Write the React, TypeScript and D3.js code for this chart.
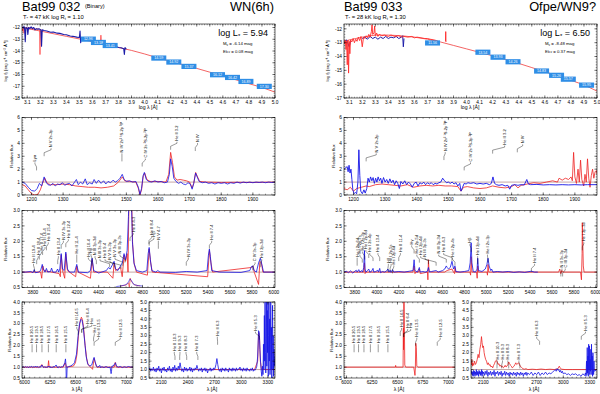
import React from 'react';
import * as d3 from 'd3';

type Pt = [number, number];
type Lab = [number, number, number, string];

const FONT = "'Liberation Sans', Arial, Helvetica, sans-serif";
const BLUE = '#1414e6';
const RED = '#ee2222';
const BOXC = '#2f8ee6';
const OX2 = 322;

// ---------------- Bat99 032 (left) ----------------
const sedModelL: Pt[] = [[3.06,-12.0],[3.2,-12.3],[3.4,-12.75],[3.6,-13.2],[3.8,-13.7],[3.9,-13.95],[4.0,-14.25],[4.1,-14.58],[4.2,-14.88],[4.3,-15.18],[4.4,-15.48],[4.5,-15.8],[4.6,-16.12],[4.7,-16.45],[4.8,-16.78],[4.9,-17.1],[5.0,-17.5]];
const sedObsBlueL: (Pt|null)[] = [[3.06,-11.95],[3.07,-12.05],[3.075,-11.9],[3.08,-12.1],[3.085,-13.2],[3.09,-12.0],[3.1,-12.05],[3.105,-12.6],[3.11,-12.0],[3.12,-12.1],[3.13,-11.95],[3.14,-12.1],[3.15,-12.0],[3.16,-12.2],[3.17,-12.1],[3.18,-12.15],[3.19,-12.1],[3.205,-12.2],[3.21,-13.6],[3.215,-12.2],[3.23,-12.25],[3.25,-12.3],[3.28,-12.4],[3.3,-12.38],[3.33,-12.48],[3.35,-12.5],[3.38,-12.6],[3.4,-12.62],[3.43,-12.72],[3.45,-12.75],[3.48,-12.82],[3.5,-12.85],[3.505,-12.3],[3.51,-13.3],[3.515,-12.9],[3.53,-12.95],[3.55,-13.0],[3.58,-13.1],[3.6,-13.15],[3.62,-13.18],[3.65,-13.3],[3.67,-13.32],[3.7,-13.45],[3.72,-13.45],[3.75,-13.55],[3.78,-13.62],[3.8,-13.7],[3.82,-13.72],[3.84,-13.8],[3.845,-14.3],[3.85,-13.7],[3.86,-13.85]];
const sedObsRedL: (Pt|null)[] = [[3.06,-11.9],[3.065,-12.3],[3.07,-12.0],[3.075,-12.5],[3.08,-12.1],[3.09,-12.0],[3.1,-12.05],[3.12,-12.0],[3.14,-12.1],[3.16,-12.15],[3.18,-12.1],[3.195,-12.2],[3.198,-14.3],[3.201,-12.2],[3.21,-12.2],null,[3.66,-13.3],[3.665,-12.65],[3.67,-13.3]];
const sedBoxPosL: Pt[] = [[3.569,-12.99],[3.646,-13.27],[3.736,-13.53],[4.109,-14.6],[4.224,-14.94],[4.34,-15.31],[4.559,-16.02],[4.674,-16.25],[4.777,-16.59],[4.918,-17.01]];
const sedBoxTxtL = ['12.96','13.18','13.41','14.59','14.92','15.37','16.12','16.42','16.89','17.30'];

const uvBlueL: Pt[] = [[1170,1.0],[1180,0.9],[1190,0.6],[1200,0.35],[1210,0.3],[1218,0.5],[1225,0.9],[1232,0.7],[1240,1.4],[1246,1.0],[1252,0.8],[1260,0.75],[1268,0.9],[1275,0.7],[1282,0.85],[1290,0.8],[1298,0.95],[1305,0.75],[1312,0.85],[1320,0.9],[1328,0.7],[1335,0.95],[1342,1.2],[1348,0.8],[1355,1.0],[1362,0.85],[1370,1.25],[1376,0.8],[1384,0.95],[1392,0.85],[1398,1.2],[1405,0.9],[1412,1.15],[1420,0.9],[1428,1.1],[1435,0.85],[1442,1.05],[1450,0.95],[1458,1.15],[1465,1.0],[1472,1.1],[1480,1.3],[1487,1.6],[1493,1.2],[1500,1.05],[1510,1.1],[1520,1.0],[1530,1.05],[1538,0.6],[1543,0.05],[1548,0.5],[1553,1.5],[1557,1.75],[1563,1.2],[1570,1.05],[1580,1.0],[1590,1.1],[1600,1.0],[1610,1.05],[1620,0.95],[1630,1.0],[1636,1.6],[1640,2.8],[1645,2.2],[1650,1.3],[1657,1.05],[1665,0.9],[1672,1.0],[1680,0.85],[1688,0.8],[1695,0.95],[1702,0.85],[1708,0.45],[1713,0.9],[1719,1.7],[1724,1.4],[1730,1.05],[1740,0.95],[1750,1.0],[1760,0.9],[1770,0.95],[1780,0.85],[1790,0.95],[1800,0.9],[1810,0.95],[1820,0.85],[1830,0.95],[1840,0.9],[1850,1.0],[1860,0.92],[1870,1.0],[1880,0.95],[1890,1.0],[1900,0.95],[1910,1.0],[1920,0.97],[1930,1.0],[1940,0.95],[1950,1.0],[1960,0.97],[1970,1.0]];
const uvRedL: Pt[] = [[1170,0.8],[1180,0.7],[1190,0.4],[1200,0.1],[1210,0.0],[1220,0.05],[1228,0.4],[1235,0.9],[1242,1.3],[1250,0.9],[1260,0.8],[1280,0.8],[1300,0.85],[1320,0.8],[1340,0.7],[1360,0.65],[1380,0.6],[1400,0.6],[1420,0.55],[1440,0.6],[1460,0.7],[1475,1.0],[1487,1.4],[1495,1.1],[1510,1.05],[1530,1.0],[1538,0.5],[1543,0.0],[1548,0.4],[1553,1.4],[1558,1.7],[1565,1.2],[1575,1.05],[1600,1.05],[1625,1.0],[1634,1.6],[1640,3.3],[1646,2.5],[1652,1.4],[1660,1.15],[1670,1.2],[1680,1.15],[1690,1.1],[1700,1.0],[1708,0.55],[1713,0.9],[1719,1.75],[1725,1.4],[1732,1.05],[1750,1.0],[1800,0.97],[1850,0.98],[1900,0.97],[1970,1.0]];
const uvLabL: Lab[] = [[1216,1211,2.6,'Lyα'],[1240,1262,3.7,'N V 2s-2p'],[1486,1486,3.3,'N IV 2s² ¹S-2p ³P'],[1550,1560,2.9,'C IV 2s ²S-2p ²P'],[1640,1660,4.2,'He II 3-2'],[1718,1725,4.1,'N IV']];

const optBlueL: Pt[] = [[3700,1.0],[3735,1.0],[3780,1.02],[3800,0.98],[3812,1.08],[3822,0.98],[3850,1.0],[3870,1.05],[3885,1.25],[3895,1.1],[3910,1.0],[3923,1.12],[3935,1.0],[3960,1.02],[3970,1.13],[3982,1.0],[4010,1.0],[4025,1.1],[4035,1.0],[4045,1.1],[4058,1.6],[4070,1.1],[4085,1.05],[4100,1.65],[4115,1.1],[4135,1.0],[4180,1.0],[4200,1.25],[4215,1.0],[4300,0.98],[4325,1.05],[4340,1.45],[4355,1.05],[4400,0.97],[4470,1.05],[4490,1.15],[4505,1.1],[4520,1.2],[4541,1.35],[4555,1.1],[4575,1.05],[4600,1.2],[4615,1.3],[4632,1.6],[4645,1.4],[4660,1.7],[4672,2.8],[4680,4.2],[4695,4.0],[4708,2.0],[4722,1.3],[4745,1.05],[4800,1.0],[4840,1.05],[4852,1.6],[4861,1.8],[4872,1.4],[4885,1.05],[4920,1.0],[4940,1.05],[4960,1.0],[5100,0.99],[5200,1.02],[5300,1.0],[5390,1.05],[5402,1.55],[5411,1.75],[5420,1.5],[5432,1.05],[5500,1.0],[5700,0.99],[5780,1.05],[5795,1.18],[5808,1.2],[5820,1.05],[5840,1.0],[5860,1.3],[5876,1.45],[5890,1.25],[5905,1.0],[6010,1.0]];
const optRedL: Pt[] = [[3700,1.0],[3870,1.0],[3880,0.8],[3890,1.2],[3900,1.05],[4040,0.95],[4050,0.85],[4058,1.55],[4070,1.05],[4090,0.8],[4100,1.6],[4115,1.05],[4190,0.85],[4200,1.2],[4212,1.0],[4325,0.8],[4340,1.4],[4355,1.0],[4480,1.0],[4530,0.8],[4541,1.3],[4555,1.05],[4600,1.15],[4615,0.85],[4632,1.55],[4645,1.35],[4660,1.6],[4668,1.0],[4674,2.7],[4684,4.3],[4698,3.9],[4710,1.9],[4725,1.25],[4745,1.0],[4845,0.9],[4861,1.75],[4875,1.3],[4890,1.0],[5395,0.85],[5411,1.7],[5425,1.3],[5440,1.0],[5795,1.15],[5808,1.2],[5820,1.0],[5860,0.6],[5872,1.35],[5885,1.3],[5900,1.0],[6010,1.0]];
const optInsetBlueL: Pt[] = [[4560,0.53],[4600,0.55],[4640,0.58],[4660,0.62],[4675,0.7],[4686,0.78],[4700,0.72],[4720,0.6],[4760,0.56],[4800,0.55]];
const optInsetRedL: Pt[] = [[4600,0.55],[4650,0.58],[4672,0.65],[4680,0.5],[4688,0.8],[4700,0.68],[4730,0.58],[4780,0.55]];
const optLabL: Lab[] = [[3813,3805,1.3,'He II 19-4'],[3834,3848,1.55,'He II 18-4'],[3858,3878,1.7,'He II 17-4'],[3888,3910,1.85,'He II 16-4'],[3923,3940,2.0,'He II 15-4'],[4026,4032,1.55,'He II 13-4'],[4058,4078,2.05,'N IV 3s-3p'],[4100,4123,2.1,'He II 12-4'],[4200,4200,1.6,'He II 11-4'],[4338,4306,1.5,'He II 10-4'],[4340,4330,1.62,'Hγ'],[4379,4367,1.55,'N III 3p-3d'],[4500,4412,1.45,'N III 3s-3p'],[4541,4458,1.45,'He II 9-4'],[4604,4504,1.4,'N V 3s-3p'],[4620,4549,1.5,'N V 3s-3p'],[4640,4595,1.6,'N III 3p-3s'],[4686,4716,2.3,'He II 4-3'],[4859,4884,2.2,'He II 8-4'],[4861,4904,2.15,'Hβ'],[4945,4945,2.05,'N V 4-7'],[5200,5219,1.5,'N IV 3s-3p'],[5411,5432,2.05,'He II 7-4'],[5806,5828,1.35,'C IV 3s-3p'],[5876,5889,1.45,'He I 2p-3d']];

const haBlueL: Pt[] = [[5975,1.0],[5990,1.02],[6000,0.98],[6010,1.03],[6020,0.99],[6030,1.02],[6040,0.97],[6050,1.03],[6060,1.0],[6070,1.04],[6080,0.98],[6090,1.02],[6100,1.0],[6110,1.05],[6120,0.99],[6130,1.03],[6140,0.98],[6150,1.02],[6160,1.0],[6170,1.1],[6180,1.02],[6190,0.98],[6200,1.03],[6210,0.97],[6220,1.02],[6230,1.0],[6240,1.05],[6250,0.98],[6260,1.02],[6270,0.97],[6280,1.03],[6290,1.0],[6300,1.04],[6310,1.1],[6320,1.0],[6330,0.97],[6340,1.03],[6350,0.98],[6360,1.02],[6370,1.0],[6380,1.05],[6395,1.2],[6402,1.38],[6407,1.1],[6410,0.3],[6414,0.4],[6418,1.0],[6430,1.02],[6450,1.05],[6470,1.1],[6490,1.2],[6510,1.6],[6525,2.4],[6540,3.0],[6555,3.2],[6565,3.15],[6575,2.9],[6590,2.2],[6605,1.5],[6620,1.15],[6640,1.05],[6660,1.1],[6672,1.3],[6683,1.45],[6693,1.25],[6705,1.05],[6720,1.0],[6740,1.08],[6745,0.98],[6760,1.02],[6780,0.98],[6800,1.03],[6820,0.98],[6840,1.0],[6850,0.7],[6854,0.8],[6858,1.05],[6870,1.05],[6885,1.15],[6893,1.2],[6902,1.05],[6920,1.0],[6940,1.03],[6960,0.98],[6980,1.02],[7000,0.99],[7020,1.03],[7040,1.0],[7065,1.01]];
const haRedL: Pt[] = [[5975,1.0],[6150,1.0],[6170,1.12],[6185,1.0],[6230,1.0],[6236,1.3],[6242,1.0],[6380,1.0],[6400,1.2],[6412,1.0],[6480,1.05],[6500,1.2],[6515,1.6],[6530,2.5],[6545,3.1],[6558,3.3],[6568,3.2],[6580,2.8],[6595,2.0],[6610,1.4],[6625,1.1],[6650,1.0],[6668,0.9],[6683,1.4],[6695,1.2],[6710,1.0],[6880,1.0],[6891,1.22],[6902,1.0],[7065,1.0]];
const haLabL: Lab[] = [[6074,6074,2.1,'He II 20-5'],[6118,6118,2.1,'He II 19-5'],[6171,6171,2.1,'He II 18-5'],[6234,6234,2.1,'He II 17-5'],[6311,6311,2.1,'He II 16-5'],[6406,6406,2.1,'He II 15-5'],[6527,6513,2.9,'He II 14-5'],[6560,6621,3.0,'He II 6-4'],[6563,6660,3.0,'Hα'],[6678,6685,2.6,'He I'],[6683,6727,2.4,'He II 13-5'],[6891,6940,2.4,'He II 12-5']];

const irBlueL: Pt[] = [[1960,1.0],[1970,1.1],[1980,0.9],[1990,1.05],[2000,0.95],[2010,1.15],[2020,0.9],[2030,1.05],[2040,0.85],[2050,1.1],[2060,0.95],[2070,1.2],[2080,0.9],[2090,1.05],[2100,0.8],[2110,1.1],[2120,0.95],[2130,1.15],[2140,0.9],[2150,1.0],[2160,0.85],[2170,1.1],[2180,0.95],[2190,1.2],[2200,0.9],[2210,1.05],[2220,0.85],[2230,1.15],[2240,0.95],[2250,1.25],[2260,0.9],[2270,1.1],[2280,0.95],[2290,1.2],[2300,1.0],[2310,1.4],[2320,1.1],[2330,0.9],[2340,1.05],[2350,0.85],[2360,1.15],[2370,0.95],[2380,1.1],[2390,0.9],[2400,1.05],[2410,0.95],[2420,1.15],[2430,0.9],[2440,1.1],[2450,0.85],[2460,1.05],[2470,0.95],[2480,1.1],[2490,1.0],[2500,1.25],[2510,1.05],[2520,0.9],[2530,1.05],[2540,0.95],[2550,1.1],[2560,0.85],[2570,1.05],[2580,0.95],[2590,1.1],[2600,0.9],[2610,1.05],[2620,0.8],[2630,1.0],[2640,0.95],[2650,1.1],[2660,0.9],[2670,1.05],[2680,0.95],[2690,1.1],[2700,1.0],[2715,1.3],[2725,1.65],[2735,1.3],[2745,1.0],[2755,0.9],[2765,1.05],[2775,0.85],[2785,1.1],[2795,0.95],[2805,1.05],[2815,0.9],[2825,1.1],[2835,0.95],[2845,1.0],[2855,0.85],[2865,1.1],[2875,0.95],[2885,1.05],[2895,0.9],[2905,1.1],[2915,0.95],[2925,1.05],[2935,0.9],[2945,1.1],[2955,0.95],[2965,1.05],[2975,1.0],[2985,1.15],[2995,0.95],[3005,1.05],[3015,0.9],[3025,1.1],[3035,0.95],[3045,1.05],[3055,0.9],[3065,1.1],[3075,0.95],[3085,1.0],[3095,0.9],[3105,1.05],[3115,0.95],[3125,1.1],[3135,0.9],[3145,1.0],[3155,0.95],[3165,1.05],[3175,1.2],[3185,1.8],[3195,3.3],[3203,3.2],[3210,2.2],[3218,1.4],[3225,0.9],[3232,0.6],[3238,1.2],[3245,0.7],[3250,2.5],[3255,1.0],[3260,4.2],[3264,1.5],[3268,5.2],[3272,2.0],[3276,0.8],[3280,3.5],[3284,5.2],[3288,1.2],[3292,4.5],[3296,2.0],[3300,5.2],[3304,0.6],[3308,3.0],[3312,5.2],[3316,1.5],[3320,4.0],[3324,0.7],[3328,2.5],[3332,5.2],[3336,1.0],[3340,3.5],[3344,0.5],[3348,2.8],[3352,4.8],[3356,1.0],[3360,3.0],[3364,0.6],[3368,2.2],[3372,1.2],[3380,1.8]];
const irRedL: Pt[] = [[1960,1.0],[3150,1.0],[3185,1.5],[3195,3.2],[3205,3.0],[3215,1.5],[3228,1.0],[3380,1.0]];
const irLabL: Lab[] = [[2253,2245,2.1,'He II 10-3'],[2306,2309,2.1,'He II 9-3'],[2385,2377,2.1,'He II 8-3'],[2511,2498,2.1,'He II 7-3'],[2733,2730,3.0,'He II 6-3'],[3203,3160,3.3,'He II 5-3']];

// ---------------- Bat99 033 (right) ----------------
const sedModelR: Pt[] = [[3.06,-12.95],[3.1,-12.8],[3.2,-12.6],[3.3,-12.45],[3.4,-12.45],[3.5,-12.5],[3.6,-12.6],[3.7,-12.75],[3.8,-12.95],[3.9,-13.2],[4.0,-13.45],[4.1,-13.7],[4.2,-13.95],[4.3,-14.22],[4.4,-14.5],[4.5,-14.8],[4.6,-15.1],[4.7,-15.4],[4.8,-15.72],[4.9,-16.05],[5.0,-16.5]];
const sedObsRedR: (Pt|null)[] = [[3.06,-12.9],[3.065,-13.1],[3.07,-12.8],[3.075,-13.5],[3.08,-12.9],[3.085,-14.6],[3.09,-12.8],[3.095,-15.2],[3.1,-12.9],[3.105,-13.8],[3.11,-12.8],[3.12,-12.95],[3.13,-12.7],[3.14,-13.0],[3.15,-12.75],[3.16,-12.9],[3.17,-12.6],[3.18,-12.85],[3.19,-12.55],[3.2,-13.3],[3.21,-12.6],[3.22,-12.7],[3.23,-12.5],[3.24,-12.65],[3.25,-12.4],[3.26,-12.6],[3.27,-12.2],[3.275,-11.7],[3.28,-12.4],[3.29,-12.3],[3.295,-11.8],[3.3,-12.5],[3.31,-12.3],[3.32,-12.55],[3.33,-12.4],[3.35,-12.5],[3.37,-12.45],[3.4,-12.55],[3.42,-12.45],[3.45,-12.55],[3.48,-12.5],[3.5,-12.6],[3.52,-12.55],[3.55,-12.6],[3.58,-12.55],[3.6,-12.65],[3.62,-12.6],[3.65,-12.65],[3.68,-12.7],[3.7,-12.7],[3.72,-12.75],[3.75,-12.8],[3.77,-12.85],[3.78,-12.9],null,[3.838,-12.9],[3.84,-12.2],[3.842,-12.95]];
const sedObsBlueR: (Pt|null)[] = [[3.06,-12.9],[3.08,-12.8],[3.1,-13.3],[3.11,-12.9],null,[3.2,-12.7],[3.22,-12.6],[3.24,-12.75],[3.26,-12.55],[3.28,-12.7],[3.3,-12.6],[3.32,-12.75],[3.34,-12.6],[3.36,-12.7],[3.38,-12.55],[3.4,-12.7],[3.42,-12.6],[3.44,-12.65],[3.46,-12.55],[3.48,-12.7],[3.5,-12.6],[3.51,-12.5],[3.515,-13.3],[3.52,-12.7]];
const sedBoxPosR: Pt[] = [[3.739,-13.02],[4.125,-13.69],[4.241,-14.05],[4.356,-14.38],[4.575,-15.05],[4.69,-15.36],[4.78,-15.64],[4.92,-16.07]];
const sedBoxTxtR = ['11.56','13.54','13.93','14.26','14.83','15.26','15.57','15.95'];

const uvBlueR: Pt[] = [[1170,2.0],[1180,2.2],[1183,1.8],[1186,2.3],[1189,1.7],[1192,2.0],[1195,1.2],[1198,0.4],[1202,0.1],[1206,0.2],[1210,0.1],[1214,1.0],[1217,3.5],[1220,1.5],[1223,0.3],[1228,0.1],[1233,0.4],[1237,0.15],[1242,0.5],[1246,1.3],[1250,1.0],[1254,1.4],[1258,1.1],[1262,1.35],[1266,0.9],[1270,1.3],[1274,1.0],[1278,1.4],[1282,1.1],[1286,1.3],[1290,0.9],[1295,1.35],[1300,1.0],[1305,1.2],[1310,0.9],[1315,1.25],[1320,0.95],[1325,1.15],[1330,0.8],[1335,1.1],[1340,0.9],[1345,0.5],[1350,1.05],[1356,0.85],[1362,1.1],[1368,0.8],[1374,1.0],[1380,0.85],[1386,0.6],[1392,0.9],[1398,1.0],[1404,0.7],[1410,0.95],[1416,0.85],[1422,1.0],[1428,0.8],[1434,0.95],[1440,0.85],[1446,0.95],[1452,0.8],[1458,0.9],[1464,0.85],[1470,0.95],[1476,1.0],[1482,1.3],[1488,1.1],[1494,0.95],[1500,1.0],[1506,0.9],[1512,1.0],[1518,0.85],[1524,0.95],[1530,0.7],[1536,0.9],[1540,0.3],[1545,0.6],[1550,0.9],[1556,0.85],[1562,0.95],[1570,0.9],[1580,0.95],[1590,0.85],[1600,0.9],[1610,0.85],[1620,0.9],[1630,0.8],[1636,0.9],[1641,1.4],[1646,0.9],[1652,0.8],[1660,0.75],[1670,0.8],[1680,0.7],[1688,0.75],[1694,0.45],[1700,0.75],[1710,0.8],[1720,0.75],[1730,0.8],[1740,0.78],[1748,1.2],[1753,0.85],[1760,0.8],[1780,0.82],[1800,0.78],[1820,0.8],[1840,0.78],[1860,0.8],[1880,0.78],[1900,0.8],[1920,0.78],[1940,0.8],[1970,0.8]];
const uvRedR: Pt[] = [[1170,0.5],[1180,0.4],[1190,0.6],[1200,0.3],[1210,0.5],[1225,0.6],[1240,0.7],[1250,0.65],[1270,0.8],[1290,0.85],[1310,0.8],[1330,0.75],[1350,0.7],[1370,0.8],[1390,0.6],[1410,0.7],[1430,0.75],[1450,0.7],[1470,0.75],[1490,0.7],[1510,0.7],[1530,0.65],[1540,0.3],[1548,0.6],[1560,0.65],[1580,0.55],[1600,0.5],[1620,0.55],[1640,0.7],[1660,0.6],[1680,0.55],[1700,0.65],[1710,0.8],[1720,0.55],[1730,0.75],[1750,0.85],[1770,0.95],[1790,0.9],[1810,1.0],[1830,1.1],[1845,1.0],[1850,1.3],[1860,1.15],[1870,1.3],[1880,1.2],[1888,1.4],[1892,1.1],[1896,3.3],[1900,1.4],[1905,0.9],[1910,2.0],[1914,1.0],[1918,2.7],[1922,1.2],[1928,0.7],[1932,1.6],[1936,1.0],[1940,2.8],[1944,1.3],[1948,0.6],[1952,1.5],[1956,2.0],[1960,1.3],[1964,1.8],[1968,1.9],[1970,1.6]];
const uvLabR: Lab[] = [[1240,1272,3.3,'N V 2s-2p'],[1486,1490,3.4,'N IV 2s² ¹S-2p ³P'],[1550,1570,2.6,'C IV 2s ²S-2p ²P'],[1640,1678,3.9,'He II 3-2'],[1718,1735,4.0,'N IV']];

const optBlueR: Pt[] = [[3700,1.0],[3720,1.03],[3740,0.98],[3760,1.04],[3780,0.97],[3800,1.03],[3812,1.06],[3820,1.0],[3835,1.08],[3845,1.0],[3860,1.05],[3870,1.0],[3880,1.15],[3887,1.7],[3892,1.1],[3900,1.0],[3915,1.05],[3926,1.1],[3935,1.0],[3950,1.02],[3965,1.12],[3972,1.0],[3990,1.02],[4009,1.06],[4015,1.0],[4026,1.12],[4034,0.98],[4050,1.02],[4070,1.0],[4090,1.04],[4101,1.1],[4110,1.0],[4121,1.06],[4130,0.99],[4143,1.08],[4155,1.0],[4200,1.02],[4250,1.0],[4300,1.03],[4330,1.05],[4340,1.4],[4348,1.05],[4370,1.0],[4388,1.15],[4396,1.0],[4420,1.02],[4440,1.0],[4460,1.02],[4471,1.15],[4480,1.0],[4500,1.02],[4541,1.05],[4560,1.0],[4600,1.05],[4620,1.1],[4634,1.2],[4642,1.15],[4655,1.1],[4670,1.15],[4686,1.35],[4700,1.1],[4713,1.2],[4722,1.02],[4760,1.0],[4800,1.02],[4840,1.05],[4852,1.3],[4861,1.95],[4868,1.3],[4880,1.02],[4900,1.0],[4915,1.1],[4921,1.45],[4928,1.05],[4960,1.02],[4990,1.1],[5005,1.25],[5015,1.45],[5025,1.2],[5040,1.05],[5048,1.1],[5060,1.0],[5100,1.02],[5150,1.0],[5200,1.02],[5250,0.99],[5300,1.01],[5350,0.99],[5411,1.03],[5440,1.0],[5470,1.0]];
const optRedR: Pt[] = [[3700,1.0],[3880,1.0],[3887,1.3],[3892,0.95],[3900,1.0],[4330,1.0],[4340,1.2],[4348,0.95],[4355,1.0],[4380,1.0],[4388,1.1],[4396,0.95],[4462,1.0],[4466,0.75],[4471,1.4],[4476,1.05],[4490,1.0],[4620,1.0],[4640,1.05],[4686,1.1],[4700,1.0],[4710,0.95],[4713,1.15],[4720,1.0],[4850,1.0],[4856,0.9],[4861,1.5],[4868,1.0],[4910,1.0],[4916,0.8],[4921,1.2],[4928,1.0],[5005,1.0],[5010,0.9],[5015,1.25],[5022,1.0],[5600,1.0],[5660,1.0],[5670,1.1],[5680,0.95],[5690,1.05],[5700,1.0],[5860,1.0],[5868,0.75],[5874,1.6],[5876,2.6],[5880,2.0],[5885,1.2],[5892,1.0],[6010,1.0]];
const optLabR: Lab[] = [[3820,3820,1.5,'He I 2p-6d'],[3867,3845,1.6,'He I 2p-7s'],[3889,3870,1.7,'He I 2s-3p'],[3926,3900,1.75,'He I 2p-8d'],[3965,3935,1.65,'He I 2s-4p'],[4026,4010,1.65,'He II 13-4'],[4101,4105,1.3,'Hδ'],[4121,4130,1.3,'He I 2p-5s'],[4143,4155,1.25,'He I 2p-6d'],[4200,4215,1.65,'He II 11-4'],[4340,4318,1.9,'Hγ'],[4388,4365,1.6,'He I 2p-5d'],[4471,4400,1.55,'He I 2p-4d'],[4541,4440,1.5,'N III 3p-3s'],[4634,4565,1.6,'N III 3p-3d'],[4686,4610,1.65,'He II 4-3'],[4713,4690,1.5,'He I 2p-4s'],[4861,4850,1.95,'Hβ'],[4921,4920,1.55,'He I 2p-4d'],[5015,5010,1.6,'He I 2s-3p'],[5411,5440,1.3,'He II 7-4'],[5680,5690,1.15,'N II 3s-3p'],[5696,5720,1.15,'C III 3p-3d'],[5876,5890,2.0,'He I 2p-3d']];

const haRedR: Pt[] = [[5975,1.0],[6300,1.0],[6480,1.0],[6482,1.08],[6485,1.0],[6555,1.0],[6558,2.8],[6560,1.8],[6562,4.2],[6565,4.5],[6568,2.8],[6572,1.1],[6580,1.0],[6630,1.0],[6660,1.0],[6672,0.62],[6676,1.0],[6680,2.1],[6685,1.9],[6690,1.05],[6700,1.0],[7065,1.0]];
const haLabR: Lab[] = [[6074,6074,2.1,'He II 20-5'],[6118,6118,2.1,'He II 19-5'],[6171,6171,2.1,'He II 18-5'],[6234,6234,2.1,'He II 17-5'],[6311,6311,2.1,'He II 16-5'],[6406,6406,2.1,'He II 15-5'],[6527,6540,2.85,'He II 14-5'],[6560,6600,2.8,'He II 6-4'],[6563,6630,2.8,'Hα'],[6678,6690,2.4,'He II 13-5'],[6891,6920,2.4,'He II 12-5']];

const irBlueR: Pt[] = [[1960,1.0],[1965,0.75],[1970,0.9],[1975,0.65],[1980,0.85],[1985,0.6],[1990,0.95],[1995,0.7],[2000,0.9],[2005,0.6],[2010,0.85],[2015,0.7],[2020,1.0],[2025,0.65],[2030,0.9],[2035,0.7],[2040,0.85],[2045,0.6],[2050,0.95],[2055,0.75],[2060,0.9],[2065,0.65],[2070,0.85],[2075,0.7],[2080,1.0],[2085,0.6],[2090,0.9],[2095,0.75],[2100,0.85],[2110,0.65],[2120,0.9],[2130,0.7],[2140,0.95],[2150,0.6],[2160,0.85],[2170,0.7],[2180,0.9],[2190,0.65],[2200,0.85],[2210,0.7],[2220,0.95],[2230,0.6],[2240,0.85],[2250,0.75],[2260,0.9],[2270,0.65],[2280,0.85],[2290,0.7],[2300,0.9],[2310,0.6],[2320,0.8],[2330,0.7],[2340,0.9],[2350,0.65],[2360,0.85],[2370,0.7],[2380,0.8],[2390,0.6],[2400,0.85],[2410,0.7],[2420,0.8],[2430,0.65],[2440,0.85],[2450,0.7],[2460,0.8],[2470,0.6],[2480,0.85],[2490,0.7],[2500,0.8],[2510,0.65],[2520,0.85],[2530,0.7],[2540,0.8],[2550,0.6],[2560,0.8],[2570,0.7],[2580,0.85],[2590,0.65],[2600,0.8],[2620,0.7],[2640,0.85],[2660,0.65],[2680,0.8],[2700,0.7],[2720,0.85],[2740,0.65],[2760,0.8],[2780,0.7],[2800,0.85],[2820,0.7],[2840,0.8],[2860,0.75],[2880,0.85],[2900,0.95],[2910,1.0],[2920,0.9],[2930,1.05],[2940,0.95],[2950,1.0],[2960,0.85],[2970,0.95],[2980,0.8],[2990,0.9],[3000,0.75],[3020,0.8],[3040,0.7],[3060,0.75],[3080,0.65],[3100,0.75],[3120,0.7],[3140,0.75],[3160,0.65],[3180,0.7],[3200,0.6],[3220,0.75],[3240,0.65],[3250,0.8],[3256,0.6],[3262,1.5],[3266,0.7],[3270,2.3],[3274,0.8],[3278,1.8],[3282,0.6],[3286,2.5],[3290,1.0],[3294,2.4],[3298,0.7],[3302,1.6],[3306,0.9],[3310,2.2],[3314,0.7],[3318,2.5],[3322,1.0],[3326,1.8],[3330,0.6],[3334,2.0],[3338,1.2],[3342,0.7],[3346,1.5],[3350,0.9],[3380,1.0]];
const irRedR: Pt[] = [[1960,1.5],[1965,1.3],[1970,1.6],[1975,1.2],[1980,1.4],[1990,1.25],[2000,1.5],[2010,1.3],[2020,1.4],[2030,1.6],[2040,1.9],[2050,1.7],[2060,2.2],[2070,2.5],[2078,2.95],[2085,2.6],[2092,2.3],[2100,2.4],[2108,2.0],[2115,1.8],[2125,1.6],[2135,1.5],[2145,1.3],[2155,1.4],[2165,1.25],[2175,1.3],[2185,1.15],[2195,1.2],[2205,1.1],[2215,1.25],[2225,1.35],[2235,1.5],[2245,1.55],[2255,1.45],[2265,1.3],[2275,1.35],[2285,1.2],[2295,1.25],[2305,1.15],[2315,1.2],[2325,1.1],[2335,1.15],[2345,1.25],[2355,1.15],[2365,1.2],[2375,1.3],[2385,1.45],[2395,1.35],[2405,1.25],[2415,1.2],[2425,1.1],[2435,1.15],[2445,1.2],[2455,1.3],[2465,1.4],[2475,1.3],[2485,1.35],[2495,1.4],[2505,1.3],[2515,1.2],[2525,1.15],[2535,1.1],[2545,1.05],[2560,1.02],[2580,1.05],[2600,1.0],[2650,1.02],[2700,1.0],[2750,1.03],[2800,1.0],[2850,1.02],[2900,1.0],[2940,1.05],[2955,1.2],[2965,1.1],[2980,1.02],[3020,1.0],[3100,1.0],[3200,1.0],[3380,1.0]];
const irLabR: Lab[] = [[2253,2255,1.6,'He II 10-3'],[2306,2315,1.6,'He II 9-3'],[2385,2375,1.6,'He II 8-3'],[2511,2500,1.6,'He II 7-3'],[2733,2700,3.0,'He II 6-3'],[3203,3250,3.3,'He II 5-3']];

// ---------------- layout ----------------
interface Series { data: (Pt|null)[]; color: string; w: number; op?: number }
interface Spec {
  id: string; l: number; t: number; r: number; b: number;
  xd: [number, number]; yd: [number, number];
  xMaj: number; xMin: number; yMaj: number; yMin: number;
  xDec: number; yDec: number;
  ref?: number; series: Series[]; labels?: Lab[];
  boxes?: { pos: Pt[]; txt: string[] };
}

function tickVals(lo: number, hi: number, step: number): number[] {
  const a = Math.ceil(lo / step - 1e-6), b = Math.floor(hi / step + 1e-6);
  return d3.range(a, b + 1).map((i) => +(i * step).toFixed(6));
}

function Panel({ s, ox }: { s: Spec; ox: number }) {
  const l = s.l + ox, r = s.r + ox;
  const xs = d3.scaleLinear().domain(s.xd).range([l, r]);
  const ys = d3.scaleLinear().domain(s.yd).range([s.b, s.t]);
  const line = d3.line<Pt | null>().defined((d) => d != null).x((d) => xs((d as Pt)[0])).y((d) => ys((d as Pt)[1]));
  const cid = `clip-${s.id}`;
  const xMajT = tickVals(s.xd[0], s.xd[1], s.xMaj);
  const xMinT = tickVals(s.xd[0], s.xd[1], s.xMin);
  const yMajT = tickVals(s.yd[0], s.yd[1], s.yMaj);
  const yMinT = tickVals(s.yd[0], s.yd[1], s.yMin);
  const tk = '#000';
  return (
    <g>
      <defs><clipPath id={cid}><rect x={l} y={s.t} width={r - l} height={s.b - s.t} /></clipPath></defs>
      <rect x={l} y={s.t} width={r - l} height={s.b - s.t} fill="#fff" />
      <g clipPath={`url(#${cid})`}>
        {s.ref != null && <line x1={l} x2={r} y1={ys(s.ref)} y2={ys(s.ref)} stroke="#8a4a4a" strokeWidth={0.5} />}
        {s.series.map((se, i) => (
          <path key={i} d={line(se.data) || ''} fill="none" stroke={se.color} strokeWidth={se.w} strokeOpacity={se.op ?? 1} strokeLinejoin="round" />
        ))}
      </g>
      {s.boxes && s.boxes.pos.map((p, i) => (
        <g key={'b' + i}>
          <rect x={xs(p[0]) - 7.5} y={ys(p[1]) - 2.6} width={15} height={5.2} fill={BOXC} />
          <text x={xs(p[0])} y={ys(p[1]) + 1.3} fontSize={3.6} fill="#fff" textAnchor="middle" fontFamily={FONT}>{s.boxes!.txt[i]}</text>
        </g>
      ))}
      {s.labels && s.labels.map(([ll, lt, yt, txt], i) => {
        const xl = xs(ll), xt = xs(lt), yp = ys(yt);
        return (
          <g key={'l' + i}>
            <polyline points={`${xt},${yp + 1} ${xt},${yp + 2.5} ${xl},${yp + 5.5} ${xl},${yp + 9}`} fill="none" stroke="#000" strokeWidth={0.4} />
            <text transform={`translate(${xt + 1.4},${yp}) rotate(-90)`} fontSize={4} fontFamily={FONT} fill="#000">{txt}</text>
          </g>
        );
      })}
      <rect x={l} y={s.t} width={r - l} height={s.b - s.t} fill="none" stroke="#000" strokeWidth={0.6} />
      {xMinT.map((v) => (
        <g key={'xm' + v}>
          <line x1={xs(v)} x2={xs(v)} y1={s.b} y2={s.b - 1.3} stroke={tk} strokeWidth={0.4} />
          <line x1={xs(v)} x2={xs(v)} y1={s.t} y2={s.t + 1.3} stroke={tk} strokeWidth={0.4} />
        </g>
      ))}
      {xMajT.map((v) => (
        <g key={'xM' + v}>
          <line x1={xs(v)} x2={xs(v)} y1={s.b} y2={s.b - 2.6} stroke={tk} strokeWidth={0.5} />
          <line x1={xs(v)} x2={xs(v)} y1={s.t} y2={s.t + 2.6} stroke={tk} strokeWidth={0.5} />
          <text x={xs(v)} y={s.b + 6} fontSize={4.8} textAnchor="middle" fontFamily={FONT}>{v.toFixed(s.xDec)}</text>
        </g>
      ))}
      {yMinT.map((v) => (
        <g key={'ym' + v}>
          <line x1={l} x2={l + 1.3} y1={ys(v)} y2={ys(v)} stroke={tk} strokeWidth={0.4} />
          <line x1={r} x2={r - 1.3} y1={ys(v)} y2={ys(v)} stroke={tk} strokeWidth={0.4} />
        </g>
      ))}
      {yMajT.map((v) => (
        <g key={'yM' + v}>
          <line x1={l} x2={l + 2.6} y1={ys(v)} y2={ys(v)} stroke={tk} strokeWidth={0.5} />
          <line x1={r} x2={r - 2.6} y1={ys(v)} y2={ys(v)} stroke={tk} strokeWidth={0.5} />
          <text x={l - 2} y={ys(v) + 1.7} fontSize={4.8} textAnchor="end" fontFamily={FONT}>{v.toFixed(s.yDec)}</text>
        </g>
      ))}
    </g>
  );
}

function vtitle(x: number, y: number, content: React.ReactNode, fs = 4.3) {
  return <text transform={`translate(${x},${y}) rotate(-90)`} fontSize={fs} textAnchor="middle" fontFamily={FONT}>{content}</text>;
}

function Column({ ox, side }: { ox: number; side: 'L' | 'R' }) {
  const L = side === 'L';
  const sed: Spec = {
    id: 'sed' + side, l: 22, t: 24, r: 275, b: 98,
    xd: [3.06, 5.0], yd: L ? [-18, -11.7] : [-17, -11.65],
    xMaj: 0.1, xMin: 0.02, yMaj: 1, yMin: 0.2, xDec: 1, yDec: 0,
    series: L
      ? [{ data: sedModelL, color: RED, w: 0.7 }, { data: sedObsRedL, color: '#ff4a4a', w: 0.8 }, { data: sedObsBlueL, color: '#1c1ca8', w: 1.1 }]
      : [{ data: sedModelR, color: RED, w: 0.7 }, { data: sedObsBlueR, color: '#1c1ca8', w: 1.0 }, { data: sedObsRedR, color: '#ff2a2a', w: 0.9 }],
    boxes: L ? { pos: sedBoxPosL, txt: sedBoxTxtL } : { pos: sedBoxPosR, txt: sedBoxTxtR },
  };
  const uv: Spec = {
    id: 'uv' + side, l: 22, t: 117.5, r: 275, b: 195,
    xd: [1170, 1970], yd: [0, 6], xMaj: 100, xMin: 20, yMaj: 1, yMin: 0.2, xDec: 0, yDec: 0, ref: 1,
    series: L ? [{ data: uvRedL, color: RED, w: 0.8 }, { data: uvBlueL, color: BLUE, w: 0.8 }]
              : [{ data: uvRedR, color: RED, w: 0.8 }, { data: uvBlueR, color: BLUE, w: 0.9 }],
    labels: L ? uvLabL : uvLabR,
  };
  const opt: Spec = {
    id: 'opt' + side, l: 22, t: 210.5, r: 275, b: 287.5,
    xd: [3700, 6010], yd: [0.5, 3.0], xMaj: 200, xMin: 50, yMaj: 0.5, yMin: 0.1, xDec: 0, yDec: 1, ref: 1,
    series: L ? [{ data: optRedL, color: RED, w: 0.8 }, { data: optBlueL, color: BLUE, w: 0.8 }, { data: optInsetRedL, color: RED, w: 0.6 }, { data: optInsetBlueL, color: BLUE, w: 0.6 }]
              : [{ data: optRedR, color: RED, w: 0.8 }, { data: optBlueR, color: BLUE, w: 0.8 }],
    labels: L ? optLabL : optLabR,
  };
  const ha: Spec = {
    id: 'ha' + side, l: 22, t: 302, r: 133, b: 378,
    xd: [5975, 7065], yd: [0.5, 4.0], xMaj: 250, xMin: 50, yMaj: 0.5, yMin: 0.1, xDec: 0, yDec: 1, ref: 1,
    series: L ? [{ data: haRedL, color: RED, w: 0.8 }, { data: haBlueL, color: BLUE, w: 0.8 }]
              : [{ data: haRedR, color: RED, w: 0.8 }],
    labels: L ? haLabL : haLabR,
  };
  const ir: Spec = {
    id: 'ir' + side, l: 149, t: 302, r: 275, b: 378,
    xd: [1960, 3380], yd: [0.5, 5.0], xMaj: 300, xMin: 50, yMaj: 0.5, yMin: 0.1, xDec: 0, yDec: 1, ref: 1,
    series: L ? [{ data: irRedL, color: RED, w: 0.8 }, { data: irBlueL, color: BLUE, w: 0.8 }]
              : [{ data: irRedR, color: RED, w: 0.8 }, { data: irBlueR, color: BLUE, w: 0.8 }],
    labels: L ? irLabL : irLabR,
  };
  return (
    <g>
      <text x={ox + 22} y={10.6} fontSize={12.8} fontFamily={FONT}>{L ? 'Bat99 032' : 'Bat99 033'}</text>
      {L && <text x={ox + 85} y={7.6} fontSize={5.6} fontFamily={FONT}>(Binary)</text>}
      <text x={ox + 274} y={10.6} fontSize={12.8} fontFamily={FONT} textAnchor="end">{L ? 'WN(6h)' : 'Ofpe/WN9?'}</text>
      <text x={ox + 23} y={18.6} fontSize={5.8} fontFamily={FONT}>
        T<tspan fontSize={4} dy={1}>*</tspan><tspan dy={-1}>{L ? ' =  47 kK   log R' : ' =  28 kK   log R'}</tspan><tspan fontSize={4} dy={1}>t</tspan><tspan dy={-1}>{L ? ' = 1.10' : ' = 1.30'}</tspan>
      </text>
      <Panel s={sed} ox={ox} />
      <text x={ox + 268} y={36} fontSize={9} fontFamily={FONT} textAnchor="end">log L<tspan fontSize={6} dy={1.5}>*</tspan><tspan dy={-1.5}>{L ? ' = 5.94' : ' = 6.50'}</tspan></text>
      <text x={ox + 223} y={45} fontSize={4.3} fontFamily={FONT}>M<tspan fontSize={3} dy={0.8}>v</tspan><tspan dy={-0.8}>{L ? ' = -6.14 mag' : ' = -8.48 mag'}</tspan></text>
      <text x={ox + 223} y={52.5} fontSize={4.3} fontFamily={FONT}>E<tspan fontSize={3} dy={0.8}>b-v</tspan><tspan dy={-0.8}>{L ? ' = 0.08 mag' : ' = 0.37 mag'}</tspan></text>
      <text x={ox + 148} y={108.5} fontSize={5.2} textAnchor="middle" fontFamily={FONT}>log λ [Å]</text>
      {vtitle(ox + 7, 61, <>log f<tspan fontSize={3} dy={0.8}>λ</tspan><tspan dy={-0.8}> [erg s⁻¹ cm⁻² Å⁻¹]</tspan></>, 4.3)}
      <Panel s={uv} ox={ox} />
      {vtitle(ox + 13, 156, 'Relative flux')}
      <Panel s={opt} ox={ox} />
      {vtitle(ox + 7, 249, 'Relative flux')}
      <Panel s={ha} ox={ox} />
      {vtitle(ox + 10.5, 340, 'Relative flux')}
      <Panel s={ir} ox={ox} />
      <text x={ox + 77} y={391} fontSize={5.2} textAnchor="middle" fontFamily={FONT}>λ [Å]</text>
      <text x={ox + 212} y={391} fontSize={5.2} textAnchor="middle" fontFamily={FONT}>λ [Å]</text>
    </g>
  );
}

export default function App() {
  return (
    <svg width={600} height={394} viewBox="0 0 600 394" style={{ position: 'absolute', left: 0, top: 0, background: '#fff' }} xmlns="http://www.w3.org/2000/svg">
      <rect x={0} y={0} width={600} height={394} fill="#fff" />
      <Column ox={0} side="L" />
      <Column ox={OX2} side="R" />
    </svg>
  );
}
